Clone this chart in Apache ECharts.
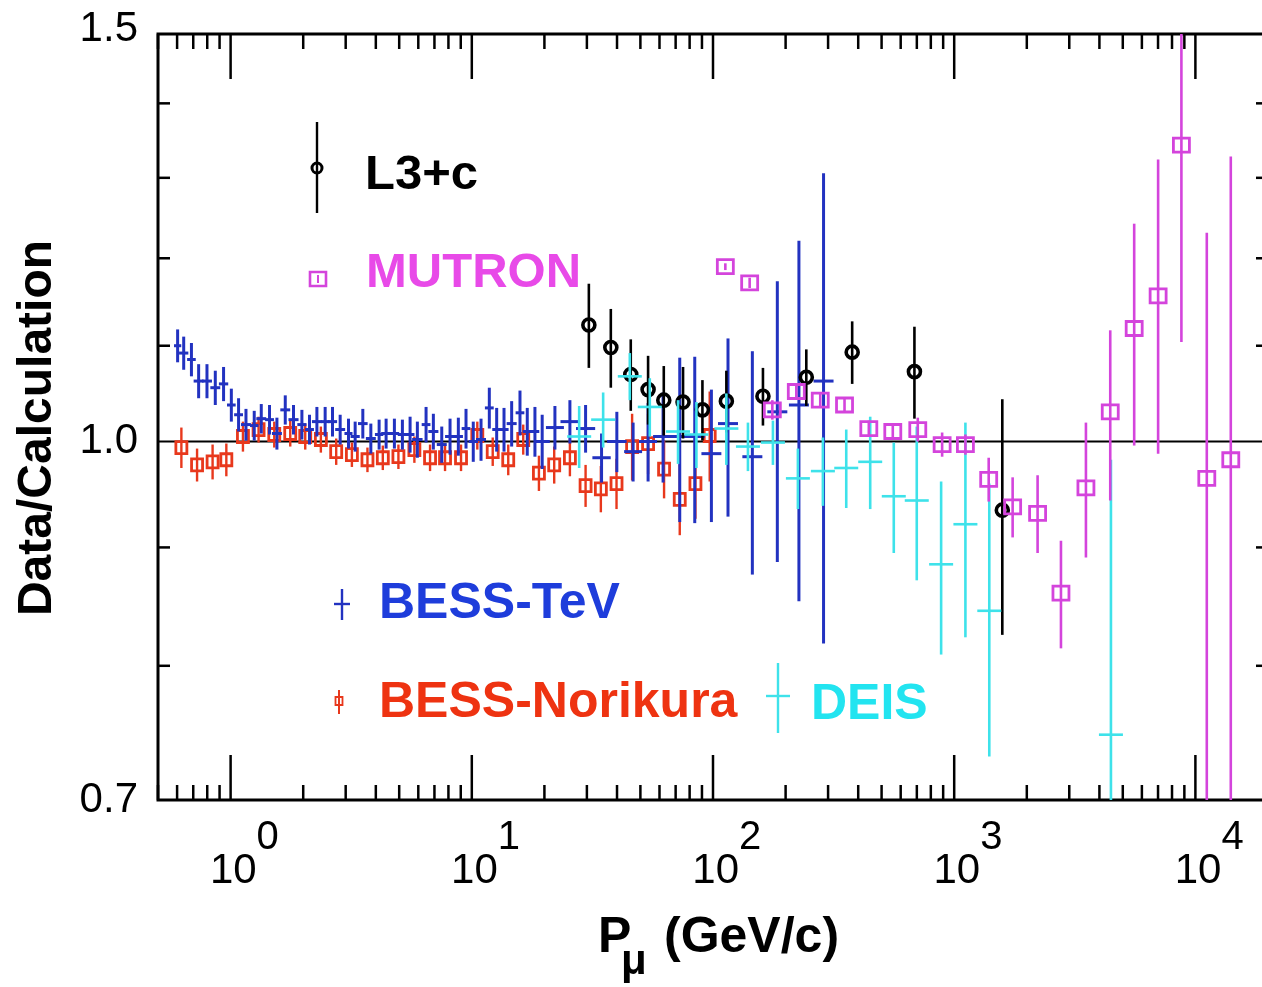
<!DOCTYPE html>
<html>
<head>
<meta charset="utf-8">
<script src="https://cdn.jsdelivr.net/npm/echarts@6/dist/echarts.min.js"></script>
<style>
  html, body { margin: 0; padding: 0; background: #fff; }
  #chart { width: 1262px; height: 987px; }
</style>
</head>
<body>
<div id="chart"></div>
<script>
// P (GeV/c), Data/Calculation, error
var bessTevP = [0.603, 0.639, 0.688, 0.737, 0.798, 0.864, 0.935, 1.007, 1.079, 1.158, 1.253, 1.340, 1.450, 1.556, 1.685, 1.823, 1.975, 2.124, 2.279, 2.466, 2.645, 2.846, 3.081, 3.284, 3.533, 3.814, 4.128, 4.413, 4.776, 5.155, 5.548, 5.947, 6.462, 6.928, 7.506, 8.124, 8.794, 9.462, 10.14, 10.92, 11.82, 12.68, 13.60, 14.63, 15.84, 16.98, 18.27, 19.58, 22.11, 25.51, 29.63, 34.51, 39.93, 46.64, 53.81, 62.09, 72.80, 84.01, 98.48, 115.4, 145.6, 184.8, 227.1, 287.3];
var bessTevR = [1.100, 1.092, 1.085, 1.062, 1.062, 1.055, 1.059, 1.037, 1.027, 1.017, 1.016, 1.023, 1.022, 1.008, 1.032, 1.022, 1.017, 1.012, 1.020, 1.020, 1.020, 1.012, 1.008, 1.005, 1.018, 1.003, 1.007, 1.008, 1.008, 1.007, 1.007, 1.002, 1.017, 1.010, 0.997, 1.005, 1.005, 1.013, 1.000, 1.002, 1.034, 1.012, 1.012, 1.018, 1.029, 1.010, 1.010, 1.000, 1.014, 1.020, 1.013, 0.984, 1.000, 0.990, 1.000, 1.005, 1.005, 1.005, 0.988, 1.018, 0.985, 1.030, 1.037, 1.062];
var bessTevE = [0.018, 0.018, 0.018, 0.018, 0.018, 0.018, 0.018, 0.017, 0.017, 0.016, 0.015, 0.015, 0.015, 0.016, 0.015, 0.015, 0.015, 0.015, 0.015, 0.015, 0.015, 0.015, 0.015, 0.015, 0.015, 0.015, 0.015, 0.015, 0.015, 0.015, 0.018, 0.018, 0.018, 0.018, 0.018, 0.018, 0.019, 0.020, 0.020, 0.021, 0.021, 0.022, 0.022, 0.023, 0.023, 0.024, 0.025, 0.027, 0.022, 0.022, 0.024, 0.024, 0.030, 0.029, 0.039, 0.045, 0.082, 0.083, 0.065, 0.090, 0.109, 0.143, 0.184, 0.244];

var norikuraP = [0.625, 0.726, 0.842, 0.960, 1.125, 1.306, 1.517, 1.767, 2.039, 2.367, 2.740, 3.183, 3.693, 4.276, 4.963, 5.780, 6.713, 7.745, 9.022, 10.54, 12.21, 14.16, 16.34, 18.98, 21.96, 25.51, 29.63, 34.28, 39.81, 46.20, 53.81, 62.68, 72.80, 84.57, 96.90];
var norikuraR = [0.994, 0.977, 0.980, 0.982, 1.005, 1.012, 1.007, 1.008, 1.005, 1.002, 0.990, 0.987, 0.982, 0.984, 0.985, 0.992, 0.984, 0.984, 0.984, 1.006, 0.990, 0.982, 1.002, 0.969, 0.977, 0.984, 0.957, 0.954, 0.959, 0.995, 0.998, 0.973, 0.944, 0.959, 1.006];
var norikuraE = [0.020, 0.016, 0.017, 0.016, 0.015, 0.013, 0.013, 0.013, 0.013, 0.013, 0.013, 0.012, 0.012, 0.012, 0.012, 0.013, 0.013, 0.013, 0.013, 0.014, 0.014, 0.015, 0.015, 0.017, 0.018, 0.018, 0.020, 0.022, 0.024, 0.033, 0.030, 0.028, 0.033, 0.033, 0.045];

var l3cP = [30.57, 37.70, 45.61, 53.81, 62.51, 75.13, 90.40, 113.6, 161.1, 243.7, 377.6, 684.1, 1583];
var l3cR = [1.123, 1.098, 1.069, 1.053, 1.042, 1.040, 1.032, 1.041, 1.046, 1.066, 1.093, 1.072, 0.934];
var l3cE = [0.047, 0.043, 0.038, 0.036, 0.036, 0.037, 0.031, 0.032, 0.030, 0.030, 0.034, 0.049, 0.109];

var mutronP = [112.5, 141.9, 176.2, 221.5, 278.4, 351.0, 442.6, 556.4, 706.3, 891.2, 1113, 1390, 1747, 2217, 2771, 3517, 4436, 5575, 7006, 8750, 11150, 14020];
var mutronR = [1.190, 1.171, 1.032, 1.051, 1.042, 1.037, 1.013, 1.010, 1.012, 0.997, 0.997, 0.963, 0.937, 0.931, 0.860, 0.955, 1.030, 1.119, 1.156, 1.343, 0.964, 0.982];
var mutronE = [0.004, 0.006, 0.010, 0.008, 0.008, 0.008, 0.008, 0.008, 0.012, 0.012, 0.010, 0.021, 0.028, 0.036, 0.046, 0.064, 0.087, 0.123, 0.168, 0.239, 0.267, 0.346];

var deisP = [27.87, 35.04, 45.19, 54.69, 71.62, 85.35, 113.6, 139.6, 177.2, 224.9, 285.5, 356.8, 448.5, 561.7, 699.5, 882.7, 1113, 1398, 4465];
var deisR = [1.005, 1.022, 1.067, 1.035, 1.010, 1.007, 1.013, 0.995, 0.999, 0.964, 0.971, 0.974, 0.980, 0.947, 0.943, 0.885, 0.921, 0.845, 0.747];
var deisE = [0.031, 0.028, 0.025, 0.030, 0.032, 0.033, 0.036, 0.024, 0.022, 0.029, 0.033, 0.038, 0.045, 0.052, 0.072, 0.076, 0.098, 0.114, 0.235];

// axis ticks
var xMajorTicks = [1, 10, 100, 1000, 10000];
var xExponents = ['0', '1', '2', '3', '4'];
var xMinorTicks = [0.5, 0.6, 0.7, 0.8, 0.9, 2, 3, 4, 5, 6, 7, 8, 9, 20, 30, 40, 50, 60, 70, 80, 90, 200, 300, 400, 500, 600, 700, 800, 900, 2000, 3000, 4000, 5000, 6000, 7000, 8000, 9000, 20000];
var yLabelTicks = [0.7, 1.0, 1.5];
var yMinorTicks = [0.8, 0.9, 1.1, 1.2, 1.3, 1.4];

var FONT = '"Liberation Sans", Arial, Helvetica, sans-serif';
var P_MIN = 0.5, P_MAX = 20000, R_MIN = 0.7, R_MAX = 1.5;

function toData(p, r, e) {
  return p.map(function (v, i) { return [v, r[i], e[i]]; });
}

// one custom series per experiment: error bar + marker
function errSeries(name, p, r, e, opt) {
  var data = toData(p, r, e);
  return {
    type: 'custom',
    name: name,
    clip: true,
    silent: true,
    z: opt.z,
    data: data,
    renderItem: function (params, api) {
      var x = api.value(0), y = api.value(1), err = api.value(2);
      var c = api.coord([x, y]);
      var hi = api.coord([x, y + err]);
      var lo = api.coord([x, Math.max(y - err, 0.3)]);
      var st = { stroke: opt.color, lineWidth: opt.lw, fill: 'none' };
      var kids = [{ type: 'line', shape: { x1: c[0], y1: hi[1], x2: c[0], y2: lo[1] }, style: st }];
      if (opt.marker === 'cross') {
        var hw = opt.hw;
        if (hw == null) {
          var i = params.dataIndex;
          var j = i < data.length - 1 ? i + 1 : i - 1;
          var n = api.coord([data[j][0], y]);
          hw = Math.min(Math.abs(n[0] - c[0]) * 0.6, 10);
        }
        kids.push({ type: 'line', shape: { x1: c[0] - hw, y1: c[1], x2: c[0] + hw, y2: c[1] }, style: st });
      } else if (opt.marker === 'square') {
        kids.push({ type: 'rect', shape: { x: c[0] - opt.w / 2, y: c[1] - opt.h / 2, width: opt.w, height: opt.h }, style: { stroke: opt.color, lineWidth: opt.mlw || opt.lw, fill: 'none' } });
      } else if (opt.marker === 'circle') {
        kids.push({ type: 'circle', shape: { cx: c[0], cy: c[1], r: opt.r }, style: { stroke: opt.color, lineWidth: 3.6, fill: 'none' } });
      }
      return { type: 'group', children: kids };
    }
  };
}

var chart = echarts.init(document.getElementById('chart'), null, { renderer: 'canvas' });

var option = {
  animation: false,
  backgroundColor: '#fff',
  grid: {
    left: 158, right: -6, top: 34, bottom: 187,
    show: true, borderColor: '#000', borderWidth: 3,
    containLabel: false, outerBoundsMode: 'none'
  },
  xAxis: {
    type: 'log', logBase: 10, min: P_MIN, max: P_MAX,
    axisLine: { show: false }, axisTick: { show: false },
    axisLabel: { show: false }, splitLine: { show: false }
  },
  yAxis: {
    type: 'log', logBase: 10, min: R_MIN, max: R_MAX,
    axisLine: { show: false }, axisTick: { show: false },
    axisLabel: { show: false }, splitLine: { show: false }
  },
  series: [
    {
      type: 'line', silent: true, symbol: 'none', z: 1,
      data: [[P_MIN, 1], [P_MAX, 1]],
      lineStyle: { color: '#000', width: 2 }
    },
    errSeries('BESS-Norikura', norikuraP, norikuraR, norikuraE, { color: '#e8381c', lw: 2.4, mlw: 2.8, marker: 'square', w: 11, h: 12, z: 2 }),
    errSeries('BESS-TeV', bessTevP, bessTevR, bessTevE, { color: '#2232c0', lw: 3, marker: 'cross', z: 3 }),
    errSeries('L3+c', l3cP, l3cR, l3cE, { color: '#000', lw: 2.6, marker: 'circle', r: 6, z: 4 }),
    errSeries('DEIS', deisP, deisR, deisE, { color: '#3ee2ea', lw: 2.6, marker: 'cross', hw: 12, z: 5 }),
    errSeries('MUTRON', mutronP, mutronR, mutronE, { color: '#d444dc', lw: 2.6, mlw: 2.8, marker: 'square', w: 16, h: 14, z: 6 }),
    // x ticks, top and bottom, with 10^n labels
    {
      type: 'custom', silent: true, clip: false, z: 10,
      data: xMajorTicks.map(function (v, i) { return [v, 1, i]; }),
      renderItem: function (params, api) {
        var b = api.coord([api.value(0), R_MIN]);
        var t = api.coord([api.value(0), R_MAX]);
        var st = { stroke: '#000', lineWidth: 2.5 };
        return {
          type: 'group', children: [
            { type: 'line', shape: { x1: b[0], y1: b[1], x2: b[0], y2: b[1] - 45 }, style: st },
            { type: 'line', shape: { x1: t[0], y1: t[1], x2: t[0], y2: t[1] + 45 }, style: st },
            { type: 'text', x: b[0] + 26, y: b[1] + 71, style: { text: '10', font: '42px ' + FONT, fill: '#000', align: 'right', verticalAlign: 'middle' } },
            { type: 'text', x: b[0] + 26, y: b[1] + 38, style: { text: xExponents[api.value(2)], font: '40px ' + FONT, fill: '#000', align: 'left', verticalAlign: 'middle' } }
          ]
        };
      }
    },
    {
      type: 'custom', silent: true, clip: false, z: 10,
      data: xMinorTicks.map(function (v) { return [v, 1]; }),
      renderItem: function (params, api) {
        var b = api.coord([api.value(0), R_MIN]);
        var t = api.coord([api.value(0), R_MAX]);
        var st = { stroke: '#000', lineWidth: 2.5 };
        return {
          type: 'group', children: [
            { type: 'line', shape: { x1: b[0], y1: b[1], x2: b[0], y2: b[1] - 15 }, style: st },
            { type: 'line', shape: { x1: t[0], y1: t[1], x2: t[0], y2: t[1] + 15 }, style: st }
          ]
        };
      }
    },
    // y ticks left and right
    {
      type: 'custom', silent: true, clip: false, z: 10,
      data: yMinorTicks.map(function (v) { return [P_MIN, v]; }),
      renderItem: function (params, api) {
        var l = api.coord([P_MIN, api.value(1)]);
        var r = api.coord([P_MAX, api.value(1)]);
        var st = { stroke: '#000', lineWidth: 2.5 };
        return {
          type: 'group', children: [
            { type: 'line', shape: { x1: l[0], y1: l[1], x2: l[0] + 12, y2: l[1] }, style: st },
            { type: 'line', shape: { x1: r[0], y1: r[1], x2: r[0] - 12, y2: r[1] }, style: st }
          ]
        };
      }
    },
    {
      type: 'custom', silent: true, clip: false, z: 10,
      data: yLabelTicks.map(function (v) { return [P_MIN, v]; }),
      renderItem: function (params, api) {
        var l = api.coord([P_MIN, api.value(1)]);
        return {
          type: 'text', x: l[0] - 20, y: l[1] - (api.value(1) > 1.4 ? 5 : 0),
          style: { text: api.value(1).toFixed(1), font: '42px ' + FONT, fill: '#000', align: 'right', verticalAlign: 'middle' }
        };
      }
    }
  ],
  graphic: [
    // axis titles
    { type: 'text', x: 38, y: 428, rotation: Math.PI / 2, style: { text: 'Data/Calculation', font: 'bold 48px ' + FONT, fill: '#000', align: 'center', verticalAlign: 'middle' } },
    { type: 'text', x: 598, y: 938, style: { text: 'P', font: 'bold 50px ' + FONT, fill: '#000', align: 'left', verticalAlign: 'middle' } },
    { type: 'text', x: 621, y: 962, style: { text: 'μ', font: 'bold 42px ' + FONT, fill: '#000', align: 'left', verticalAlign: 'middle' } },
    { type: 'text', x: 664, y: 938, style: { text: '(GeV/c)', font: 'bold 50px ' + FONT, fill: '#000', align: 'left', verticalAlign: 'middle' } },

    // legend: L3+c
    { type: 'line', shape: { x1: 317, y1: 122, x2: 317, y2: 213 }, style: { stroke: '#000', lineWidth: 2.4 } },
    { type: 'circle', shape: { cx: 317, cy: 168, r: 5 }, style: { stroke: '#000', lineWidth: 3, fill: 'none' } },
    { type: 'text', x: 365, y: 175, style: { text: 'L3+c', font: 'bold 49px ' + FONT, fill: '#000', verticalAlign: 'middle' } },
    // MUTRON
    { type: 'rect', shape: { x: 310, y: 272, width: 16, height: 14 }, style: { stroke: '#d444dc', lineWidth: 2.6, fill: 'none' } },
    { type: 'line', shape: { x1: 318, y1: 275, x2: 318, y2: 283 }, style: { stroke: '#d444dc', lineWidth: 2 } },
    { type: 'text', x: 366, y: 273, style: { text: 'MUTRON', font: 'bold 49px ' + FONT, fill: '#e84ae8', verticalAlign: 'middle' } },
    // BESS-TeV
    { type: 'line', shape: { x1: 342, y1: 589, x2: 342, y2: 620 }, style: { stroke: '#2232c0', lineWidth: 2.4 } },
    { type: 'line', shape: { x1: 334, y1: 604, x2: 350, y2: 604 }, style: { stroke: '#2232c0', lineWidth: 2.4 } },
    { type: 'text', x: 379, y: 604, style: { text: 'BESS-TeV', font: 'bold 50px ' + FONT, fill: '#1e3ddb', verticalAlign: 'middle' } },
    // BESS-Norikura
    { type: 'line', shape: { x1: 339, y1: 690, x2: 339, y2: 714 }, style: { stroke: '#e8381c', lineWidth: 2 } },
    { type: 'rect', shape: { x: 335.5, y: 697, width: 7, height: 8 }, style: { stroke: '#e8381c', lineWidth: 1.8, fill: 'none' } },
    { type: 'text', x: 379, y: 703, style: { text: 'BESS-Norikura', font: 'bold 50px ' + FONT, fill: '#ee3311', verticalAlign: 'middle' } },
    // DEIS
    { type: 'line', shape: { x1: 778, y1: 663, x2: 778, y2: 733 }, style: { stroke: '#3ee2ea', lineWidth: 2.4 } },
    { type: 'line', shape: { x1: 766, y1: 696, x2: 790, y2: 696 }, style: { stroke: '#3ee2ea', lineWidth: 2.4 } },
    { type: 'text', x: 811, y: 705, style: { text: 'DEIS', font: 'bold 50px ' + FONT, fill: '#22e4f0', verticalAlign: 'middle' } }
  ]
};

chart.setOption(option);
</script>
</body>
</html>
